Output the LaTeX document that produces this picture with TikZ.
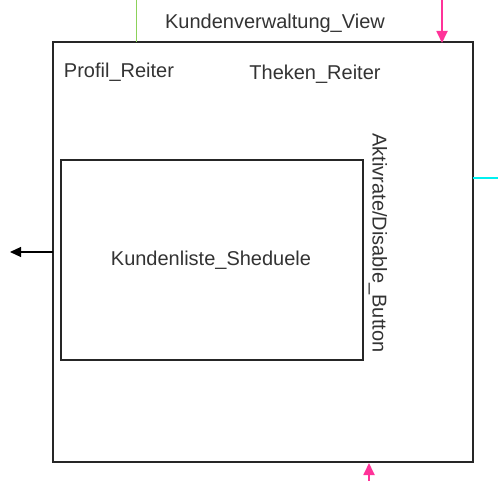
\documentclass[tikz,border=0pt]{standalone}
\usepackage{fontspec}
\setmainfont{Liberation Sans}
\usetikzlibrary{arrows.meta}
\definecolor{pinkc}{RGB}{255,51,153}
\definecolor{greenc}{RGB}{140,210,90}
\definecolor{cyanc}{RGB}{0,240,240}
\tikzset{
  box/.style={draw=black!85, line width=1.3pt},
  lbl/.style={font=\fontsize{20}{22}\selectfont, text=black!80, inner sep=0pt},
}
\begin{document}
\begin{tikzpicture}[x=1pt,y=-1pt]
\useasboundingbox (0,0) rectangle (498,481);
\draw[box] (53,42) rectangle (473,462);
\coordinate (outerL) at (53,252);
\coordinate (leftEnd) at (10,252);
\coordinate (greenTop) at (136,0);
\coordinate (greenBot) at (136,42);
\coordinate (pinkTop) at (442,0);
\coordinate (pinkBot) at (442,43);
\coordinate (pink2Bot) at (369,481);
\coordinate (pink2Top) at (369,463);
\coordinate (cyanL) at (473,178);
\coordinate (cyanR) at (498,178);
\draw[box] (61,160) rectangle (363,360);
\node[lbl] (title) at (275,23) {Kundenverwaltung\_View};
\node[lbl] (profil) at (119,72) {Profil\_Reiter};
\node[lbl] (theken) at (315,74) {Theken\_Reiter};
\node[lbl] (liste) at (211,260) {Kundenliste\_Sheduele};
\node[lbl, rotate=-90] (btn) at (378,243) {Aktivrate/Disable\_Button};
\draw[line width=1.2pt, -{Triangle[length=11pt,width=10pt]}] (outerL) -- (leftEnd);
\draw[greenc, line width=1pt] (greenTop) -- (greenBot);
\draw[pinkc, line width=1.8pt, -{Triangle[length=12pt,width=11pt]}] (pinkTop) -- (pinkBot);
\draw[pinkc, line width=1.8pt, -{Triangle[length=12pt,width=11pt]}] (pink2Bot) -- (pink2Top);
\draw[cyanc, line width=1.5pt] (cyanL) -- (cyanR);
\end{tikzpicture}
\end{document}
